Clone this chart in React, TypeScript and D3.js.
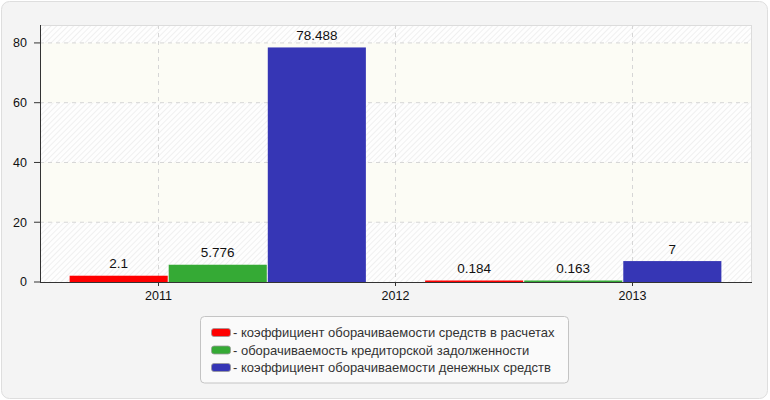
import React, { useEffect } from 'react';
import * as d3 from 'd3';

// Axis labels along the bottom
const yearTicks = ['2011', '2012', '2013'];
// Bar groups (the source draws two groups across the three year ticks)
const barGroups = ['2011–2012', '2012–2013'];

const seriesNames = [
  'коэффициент оборачиваемости средств в расчетах',
  'оборачиваемость кредиторской задолженности',
  'коэффициент оборачиваемости денежных средств'
];
const seriesColors = ['#ff0000', '#35aa35', '#3636b5'];

const receivablesTurnover = [2.1, 0.184];
const payablesTurnover = [5.776, 0.163];
const cashTurnover = [78.488, 7];
const seriesValues = [receivablesTurnover, payablesTurnover, cashTurnover];

const valueTicks = [0, 20, 40, 60, 80];

const W = 770;
const H = 400;
const margin = { top: 25, right: 19, bottom: 118, left: 40 };
const FONT = '"Liberation Sans", Arial, sans-serif';

const App: React.FC = () => {
  useEffect(() => {
    document.body.style.margin = '0';
  }, []);

  const innerW = W - margin.left - margin.right;
  const innerH = H - margin.top - margin.bottom;

  const y = d3.scaleLinear().domain([0, 86]).range([innerH, 0]);

  const xTicks = d3.scaleBand<string>().domain(yearTicks).range([0, innerW]);

  const xGroup = d3.scaleBand<string>()
    .domain(barGroups)
    .range([0, innerW])
    .paddingInner(1 / 6)
    .paddingOuter(1 / 12);

  const xSeries = d3.scaleBand<number>()
    .domain(d3.range(seriesNames.length))
    .range([0, xGroup.bandwidth()])
    .paddingInner(0.01);

  // alternating bands between horizontal gridlines
  const bandEdges = [...valueTicks, y.domain()[1]];
  const bands = d3.pairs(bandEdges).map(([a, b], i) => ({ a, b, hatched: i % 2 === 0 }));

  const fmt = (v: number) => String(v);

  return (
    <svg width={W} height={H} style={{ display: 'block', fontFamily: FONT }}>
      <defs>
        <pattern id="hatch" width={4} height={4} patternUnits="userSpaceOnUse" patternTransform="rotate(45)">
          <rect width={4} height={4} fill="#fefefe" />
          <line x1={0} y1={0} x2={0} y2={4} stroke="#ebebeb" strokeWidth={1.4} />
        </pattern>
      </defs>

      <rect x={1.5} y={1.5} width={766} height={397} rx={8} fill="#f4f4f4" stroke="#dedede" />

      <g transform={`translate(${margin.left},${margin.top})`}>
        {/* plot background */}
        <rect x={0} y={0} width={innerW} height={innerH} fill="#fcfcf5" />
        {bands.map((d, i) => d.hatched && (
          <rect key={i} x={0} y={y(d.b)} width={innerW} height={y(d.a) - y(d.b)} fill="url(#hatch)" />
        ))}

        {/* gridlines */}
        {valueTicks.filter(t => t > 0).map(t => (
          <line key={t} x1={0} x2={innerW} y1={y(t)} y2={y(t)}
            stroke="#d6d6d6" strokeDasharray="4,4" />
        ))}
        {yearTicks.map(t => {
          const cx = (xTicks(t) ?? 0) + xTicks.bandwidth() / 2;
          return (
            <line key={t} x1={cx} x2={cx} y1={0} y2={innerH}
              stroke="#d6d6d6" strokeDasharray="4,4" />
          );
        })}

        {/* plot border top/right */}
        <line x1={0} x2={innerW} y1={0.5} y2={0.5} stroke="#dcdcdc" />
        <line x1={innerW + 0.5} x2={innerW + 0.5} y1={0} y2={innerH} stroke="#dcdcdc" />

        {/* bars */}
        {barGroups.map((g, gi) => (
          <g key={g} transform={`translate(${xGroup(g)},0)`}>
            {seriesValues.map((vals, si) => {
              const v = vals[gi];
              const h = Math.max(innerH - y(v), 1.5);
              const bx = xSeries(si) ?? 0;
              return (
                <g key={si}>
                  <rect x={bx} y={innerH - h} width={xSeries.bandwidth()} height={h} fill={seriesColors[si]} />
                  <text x={bx + xSeries.bandwidth() / 2} y={innerH - h - 7.5} textAnchor="middle"
                    fontSize={13.5} fill="#111">{fmt(v)}</text>
                </g>
              );
            })}
          </g>
        ))}

        {/* y axis */}
        <line x1={0.5} x2={0.5} y1={0} y2={innerH} stroke="#333" />
        {valueTicks.map(t => (
          <g key={t} transform={`translate(0,${y(t)})`}>
            <line x1={-6} x2={0} stroke="#333" />
            <text x={-13} dy="0.35em" textAnchor="end" fontSize={12.5} fill="#111">{t}</text>
          </g>
        ))}

        {/* x axis */}
        <line x1={0} x2={innerW + 1} y1={innerH + 0.5} y2={innerH + 0.5} stroke="#333" />
        {yearTicks.map(t => {
          const cx = (xTicks(t) ?? 0) + xTicks.bandwidth() / 2;
          return (
            <g key={t} transform={`translate(${cx},${innerH})`}>
              <line y1={0} y2={4} stroke="#333" />
              <text y={18} textAnchor="middle" fontSize={12.5} fill="#111">{t}</text>
            </g>
          );
        })}
      </g>

      {/* legend */}
      <g transform="translate(200.5,316.5)">
        <rect width={368} height={66.5} rx={4} fill="#fafafa" stroke="#c4c4c4" />
        {seriesNames.map((name, i) => (
          <g key={name} transform={`translate(11,${16 + i * 17.5})`}>
            <rect x={0} y={-4} width={19} height={8} rx={2.5} fill={seriesColors[i]} stroke="#999" strokeWidth={0.8} />
            <text x={21.5} dy="0.35em" fontSize={13} fill="#333">{'- ' + name}</text>
          </g>
        ))}
      </g>
    </svg>
  );
};

export default App;
